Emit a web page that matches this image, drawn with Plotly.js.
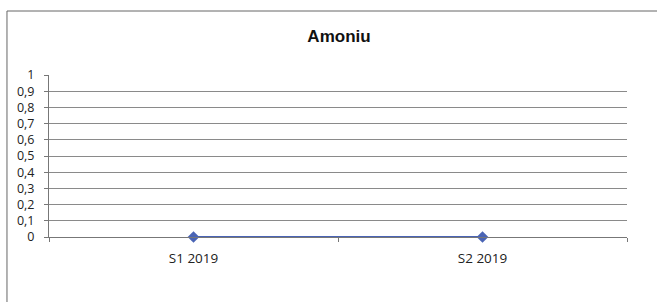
<!DOCTYPE html>
<html>
<head>
<meta charset="utf-8">
<script src="https://cdn.plot.ly/plotly-3.0.1.min.js"></script>
<style>html,body{margin:0;padding:0;background:#fff;}#chart{width:657px;height:302px;}</style>
</head>
<body>
<div id="chart"></div>
<script>
const categories = ["S1 2019", "S2 2019"];
const values = [0, 0];
const yTickVals = [0, 0.1, 0.2, 0.3, 0.4, 0.5, 0.6, 0.7, 0.8, 0.9, 1];
const chartTitle = "Amoniu";

const trace = {
  x: categories,
  y: values,
  type: "scatter",
  mode: "lines+markers",
  line: {color: "#4a64b5", width: 2},
  marker: {symbol: "diamond", size: 9, color: "#4a64b5"},
  cliponaxis: false,
  hoverinfo: "none"
};

const layout = {
  width: 657, height: 302,
  margin: {l: 49, r: 30, t: 75, b: 65},
  paper_bgcolor: "#fff", plot_bgcolor: "#fff",
  separators: ",.",
  showlegend: false,
  font: {family: "Open Sans, Liberation Sans, sans-serif", color: "#222", size: 13.5},
  title: {text: chartTitle, x: 0.516, xanchor: "center", y: 0.88, yanchor: "middle",
          font: {family: "Liberation Sans, Arial, sans-serif", size: 17, color: "#111", weight: "bold"}},
  xaxis: {
    type: "category", range: [-0.5, 1.5], fixedrange: true,
    showgrid: false, zeroline: false,
    showline: true, linecolor: "#777", linewidth: 1,
    ticks: "outside", tickson: "boundaries", ticklen: 4, tickcolor: "#777",
    ticklabelstandoff: 9,
    tickfont: {size: 13.5, color: "#222"}
  },
  yaxis: {
    range: [0, 1], fixedrange: true,
    tickvals: yTickVals, tickformat: ".1~f",
    showgrid: true, gridcolor: "#8a8a8a", gridwidth: 1,
    zeroline: false,
    showline: true, linecolor: "#777", linewidth: 1,
    ticks: "outside", ticklen: 4, tickcolor: "#777",
    ticklabelstandoff: 7,
    tickfont: {size: 12.5, color: "#222"}
  },
  shapes: [
    {type: "line", xref: "paper", yref: "paper", x0: -0.0727, x1: -0.0727, y0: 1.395, y1: -0.45,
     line: {color: "#666", width: 1}},
    {type: "line", xref: "paper", yref: "paper", x0: -0.0727, x1: 1.06, y0: 1.395, y1: 1.395,
     line: {color: "#666", width: 1}}
  ]
};

Plotly.newPlot("chart", [trace], layout, {displayModeBar: false, staticPlot: true});
</script>
</body>
</html>
